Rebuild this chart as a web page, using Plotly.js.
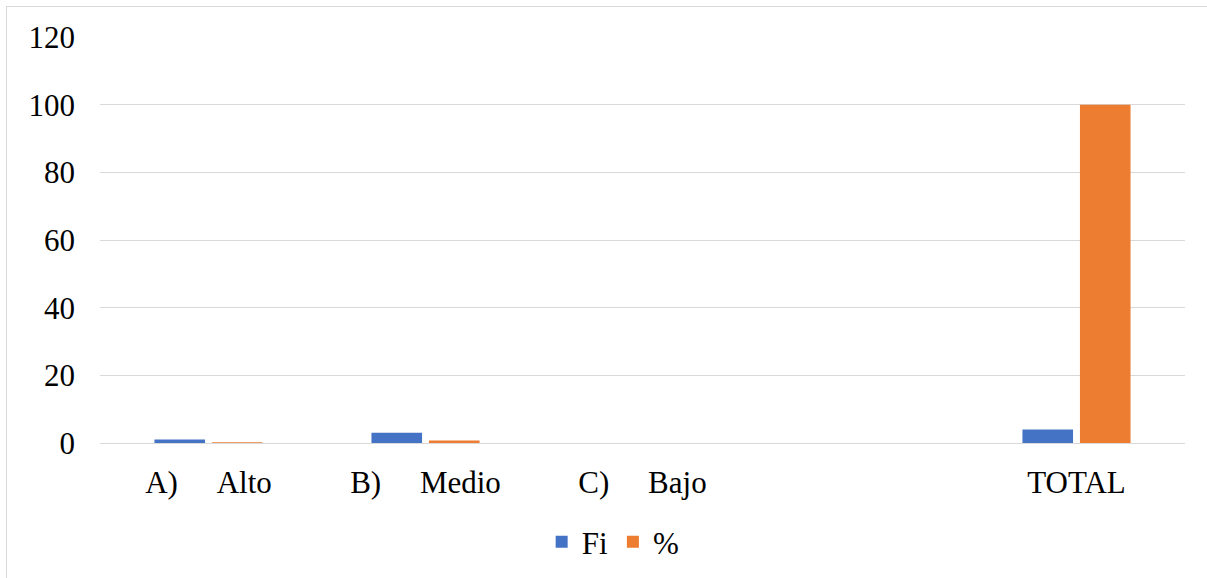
<!DOCTYPE html>
<html>
<head>
<meta charset="utf-8">
<script src="https://cdn.plot.ly/plotly-3.0.1.min.js"></script>
<style>
html,body{margin:0;padding:0;background:#fff;}
#frame{position:absolute;left:6px;top:6px;width:1210px;height:590px;border-left:1px solid #d9d9d9;border-top:1px solid #d9d9d9;}
#chart{position:absolute;left:0;top:0;width:1207px;height:578px;}
</style>
</head>
<body>
<div id="frame"></div>
<div id="chart"></div>
<script>
var NB = '\u00a0';
var categories = ['A)' + NB.repeat(5) + 'Alto', 'B)' + NB.repeat(5) + 'Medio', 'C)' + NB.repeat(5) + 'Bajo', NB, 'TOTAL'];
var fiValues = [1, 3, 0, null, 4];
var pctValues = [0.25, 0.75, 0, null, 100];
var yTicks = [0, 20, 40, 60, 80, 100, 120];

var font = {family: 'Liberation Serif, Times New Roman, serif', size: 31, color: '#000'};

var data = [
  {type: 'bar', name: 'Fi', x: categories, y: fiValues, marker: {color: '#4472C4'}, hoverinfo: 'y'},
  {type: 'bar', name: '%', x: categories, y: pctValues, marker: {color: '#ED7D31'}, hoverinfo: 'y'}
];

var layout = {
  width: 1207, height: 578,
  margin: {l: 100, r: 22, t: 37, b: 135},
  paper_bgcolor: 'rgba(0,0,0,0)',
  plot_bgcolor: 'rgba(0,0,0,0)',
  font: font,
  barmode: 'group',
  bargap: 0.47,
  bargroupgap: 0.12,
  showlegend: true,
  legend: {orientation: 'h', xref: 'container', yref: 'container', x: 0.508, xanchor: 'center', y: 0.062, yanchor: 'middle', font: font, itemwidth: 30, traceorder: 'normal'},
  xaxis: {
    type: 'category', categoryorder: 'array', categoryarray: categories,
    showgrid: false, showline: true, linecolor: '#d9d9d9', linewidth: 1,
    ticks: '', tickfont: font, ticklabelstandoff: 12, zeroline: false, automargin: false
  },
  yaxis: {
    range: [0, 120], tickvals: yTicks, ticktext: yTicks.map(String),
    showgrid: true, gridcolor: '#d9d9d9', gridwidth: 1,
    zeroline: false, showline: false, ticks: '', tickfont: font, ticklabelstandoff: 24, automargin: false
  }
};

Plotly.newPlot('chart', data, layout, {displayModeBar: false, staticPlot: true});
</script>
</body>
</html>
